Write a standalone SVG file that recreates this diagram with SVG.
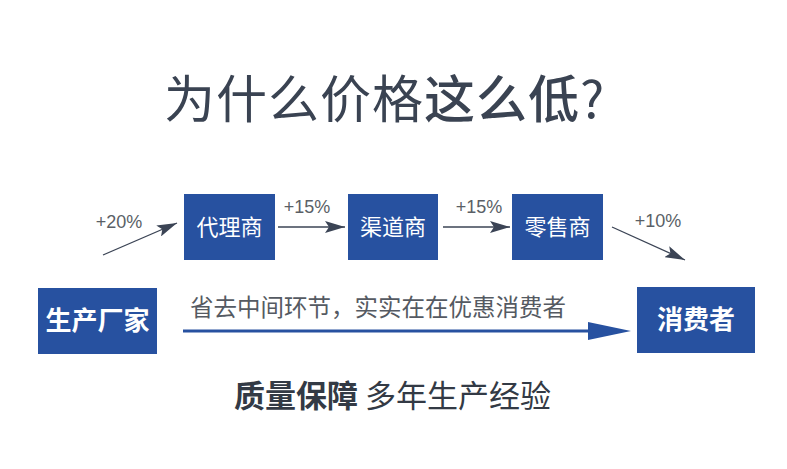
<svg xmlns="http://www.w3.org/2000/svg" width="787" height="469" viewBox="0 0 787 469">
<defs>
<style>
.box{fill:#2751a0}
.bt{fill:#fff;font-family:"Noto Sans CJK SC","Noto Sans",sans-serif;text-anchor:middle}
.lab{fill:#5a5f66;font-family:"Liberation Sans","Noto Sans",sans-serif;font-size:18px;text-anchor:middle}
.gl{stroke:#3b4455;stroke-width:1.3;fill:none}
.cjk{font-family:"Noto Sans CJK SC",sans-serif}
</style>
<marker id="ah" viewBox="0 0 20 12" refX="20" refY="6" markerWidth="20" markerHeight="12" markerUnits="userSpaceOnUse" orient="auto">
<path d="M0,0 L20,6 L0,12 L4,6 Z" fill="#3b4455"/>
</marker>
</defs>
<rect width="787" height="469" fill="#ffffff"/>
<text x="164" y="118" class="cjk" font-size="51" letter-spacing="1" fill="#3a4352">为什么价格<tspan font-weight="500">这么低</tspan>?</text>

<g id="connectors">
<line class="gl" x1="103" y1="255" x2="177" y2="223" marker-end="url(#ah)"/>
<line class="gl" x1="278" y1="227" x2="345" y2="227" marker-end="url(#ah)"/>
<line class="gl" x1="443" y1="227" x2="510" y2="227" marker-end="url(#ah)"/>
<line class="gl" x1="612" y1="227" x2="685" y2="260" marker-end="url(#ah)"/>
<line x1="183" y1="331" x2="592" y2="331" stroke="#2751a0" stroke-width="3"/>
<path d="M588,322 L631,331 L588,340 Z" fill="#2751a0"/>
<text class="lab" x="119" y="228">+20%</text>
<text class="lab" x="307" y="213">+15%</text>
<text class="lab" x="479" y="213">+15%</text>
<text class="lab" x="658" y="227">+10%</text>
</g>

<g id="n-agent"><rect class="box" x="184" y="194" width="91" height="66"/><text class="bt" x="229.5" y="235" font-size="22">代理商</text></g>
<g id="n-channel"><rect class="box" x="348" y="194" width="90" height="66"/><text class="bt" x="393" y="235" font-size="22">渠道商</text></g>
<g id="n-retail"><rect class="box" x="512" y="194" width="91" height="66"/><text class="bt" x="557.5" y="235" font-size="22">零售商</text></g>
<g id="n-factory"><rect class="box" x="38" y="288" width="119" height="66"/><text class="bt" x="97.5" y="330" font-size="26" font-weight="bold">生产厂家</text></g>
<g id="n-consumer"><rect class="box" x="637" y="287" width="118" height="66"/><text class="bt" x="696" y="329" font-size="26" font-weight="bold">消费者</text></g>

<text x="190" y="316" class="cjk" font-size="23.5" fill="#555a62">省去中间环节，实实在在优惠消费者</text>
<text x="234" y="407" class="cjk" font-size="31" fill="#333a45"><tspan font-weight="bold">质量保障</tspan> 多年生产经验</text>
</svg>
